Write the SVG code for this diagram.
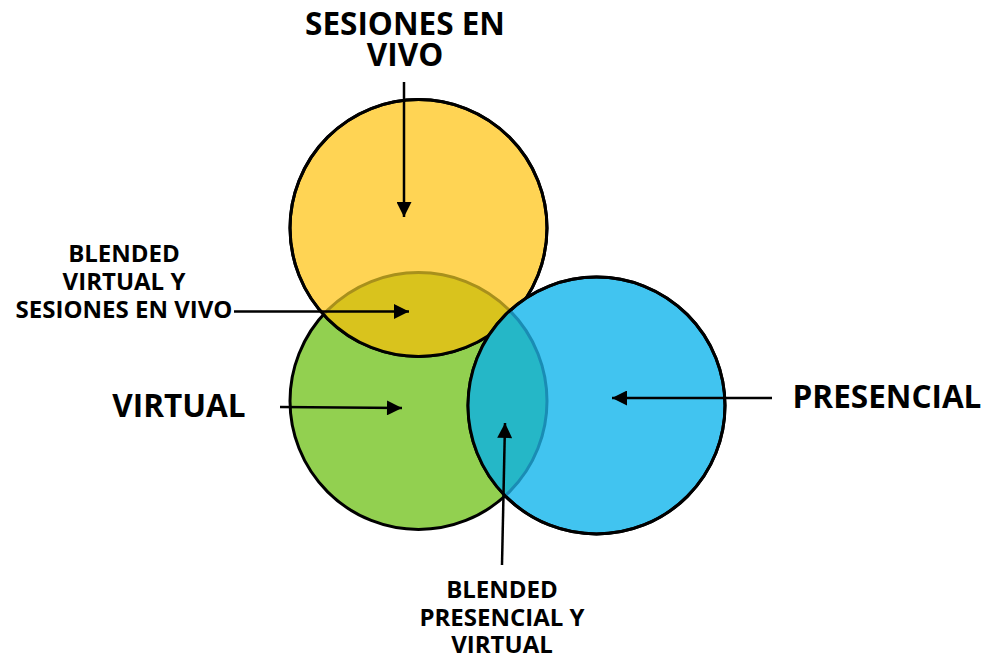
<svg xmlns="http://www.w3.org/2000/svg" width="987" height="657" viewBox="0 0 987 657">
<style>
.t{font-family:"Open Sans","Noto Sans","Liberation Sans",sans-serif;font-weight:700;fill:#000;text-anchor:middle}
.big{font-size:31.5px}
.sm{font-size:24px}
.ol{stroke:#000;stroke-width:3}
.conn{stroke:#000;stroke-width:2.5;fill:none;marker-end:url(#ah)}
</style>
<defs>
<marker id="ah" viewBox="0 0 10 10" refX="10" refY="5" markerWidth="7" markerHeight="6" markerUnits="strokeWidth" orient="auto">
<path d="M0,0 L10,5 L0,10 Z" fill="#000"/>
</marker>
<clipPath id="cG"><circle cx="418.5" cy="401" r="128.5"/></clipPath>
<clipPath id="cY"><circle cx="418.5" cy="228" r="128.5"/></clipPath>
<clipPath id="cB"><circle cx="596.5" cy="405.5" r="128.5"/></clipPath>
</defs>
<rect width="987" height="657" fill="#fff"/>
<g id="virtual">
<circle cx="418.5" cy="401" r="128.5" class="ol" style="fill:#92D050"/>
</g>
<g id="sesiones">
<circle cx="418.5" cy="228" r="128.5" class="ol" style="fill:#FFD454"/>
</g>
<g id="blended-virtual-sesiones">
<circle cx="418.5" cy="228" r="128.5" style="fill:#D9C31D;stroke:none" clip-path="url(#cG)"/>
<circle cx="418.5" cy="401" r="128.5" style="fill:none;stroke:#A8901C;stroke-width:3" clip-path="url(#cY)"/>
<circle cx="418.5" cy="228" r="128.5" class="ol" style="fill:none"/>
</g>
<g id="presencial">
<circle cx="596.5" cy="405.5" r="128.5" class="ol" style="fill:#41C4F0"/>
</g>
<g id="blended-presencial-virtual">
<circle cx="418.5" cy="401" r="128.5" style="fill:#25B7C7;stroke:none" clip-path="url(#cB)"/>
<circle cx="418.5" cy="401" r="128.5" style="fill:none;stroke:#1A8CB4;stroke-width:3" clip-path="url(#cB)"/>
<circle cx="596.5" cy="405.5" r="128.5" class="ol" style="fill:none"/>
</g>
<g id="labels">
<text class="t big" x="405" y="35">SESIONES EN</text>
<text class="t big" x="405" y="66">VIVO</text>
<text class="t big" x="179" y="417">VIRTUAL</text>
<text class="t big" x="887" y="408">PRESENCIAL</text>
<text class="t sm" x="124" y="262">BLENDED</text>
<text class="t sm" x="124" y="290">VIRTUAL Y</text>
<text class="t sm" x="124" y="318">SESIONES EN VIVO</text>
<text class="t sm" x="502" y="598">BLENDED</text>
<text class="t sm" x="502" y="626">PRESENCIAL Y</text>
<text class="t sm" x="502" y="653">VIRTUAL</text>
</g>
<g id="connectors">
<line class="conn" x1="404" y1="82" x2="404" y2="217"/>
<line class="conn" x1="234" y1="311.5" x2="409" y2="311.5"/>
<line class="conn" x1="280" y1="407" x2="402" y2="408"/>
<line class="conn" x1="772" y1="398" x2="612" y2="398"/>
<line class="conn" x1="502" y1="565" x2="505" y2="423"/>
</g>
</svg>
